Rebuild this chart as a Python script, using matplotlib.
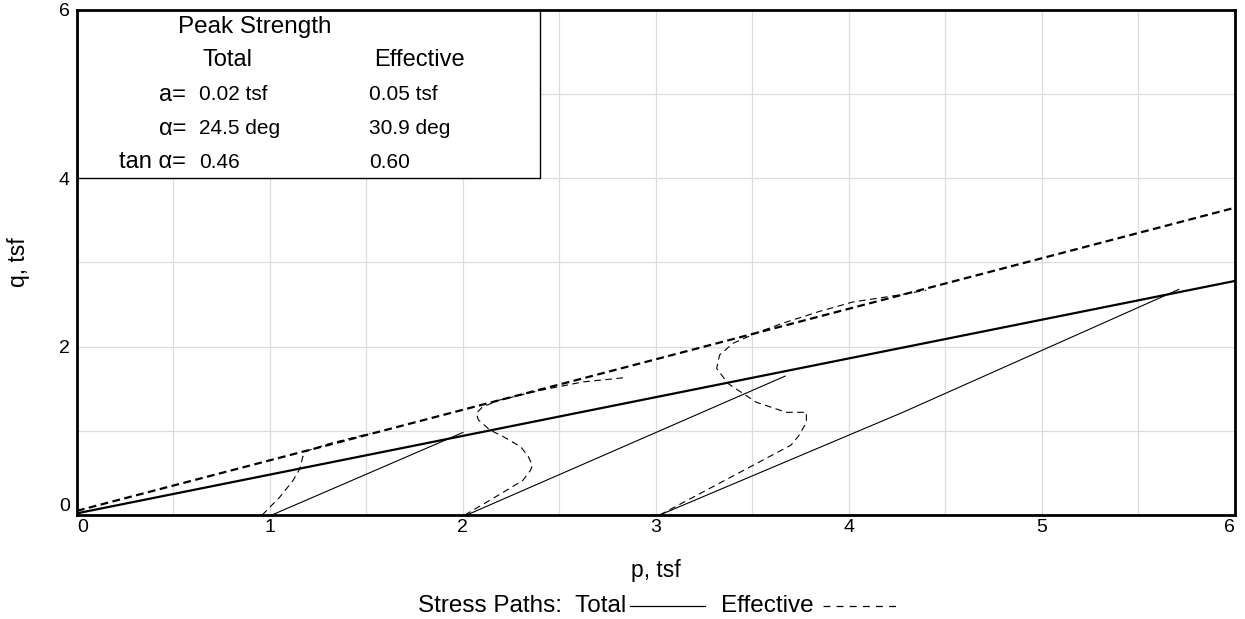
import numpy as np
import matplotlib
matplotlib.use('Agg')
import matplotlib.pyplot as plt
from matplotlib.lines import Line2D
from matplotlib.patches import Rectangle

plt.rcParams['font.family'] = ['Liberation Sans', 'DejaVu Sans']

# failure envelopes (peak strength): q = a + tan(alpha) * p
A_TOT, TAN_TOT = 0.02, 0.46
A_EFF, TAN_EFF = 0.05, 0.60

# total stress paths, p and q in tsf
TOT_P = [[1.01, 2.00],
         [2.02, 3.67],
         [3.02, 4.28, 5.71]]
TOT_Q = [[0.00, 0.98],
         [0.00, 1.65],
         [0.00, 1.22, 2.68]]

# effective stress paths
EFF_P = [[0.96, 1.05, 1.12, 1.155, 1.17, 1.19, 1.31, 1.52],
         [2.01, 2.18, 2.31, 2.35, 2.36, 2.34, 2.30, 2.21, 2.14, 2.08, 2.07,
          2.10, 2.18, 2.40, 2.62, 2.83],
         [3.02, 3.70, 3.74, 3.78, 3.78, 3.675, 3.52, 3.375, 3.315, 3.33, 3.40,
          3.47, 3.54, 3.66, 3.85, 4.02, 4.25, 4.40]]
EFF_Q = [[0.00, 0.21, 0.41, 0.55, 0.69, 0.76, 0.85, 0.97],
         [0.00, 0.23, 0.41, 0.53, 0.59, 0.69, 0.81, 0.93, 1.01, 1.13, 1.21,
          1.28, 1.36, 1.48, 1.58, 1.63],
         [0.00, 0.83, 0.94, 1.10, 1.22, 1.22, 1.34, 1.56, 1.74, 1.90, 2.04,
          2.11, 2.18, 2.28, 2.42, 2.53, 2.61, 2.67]]

X_TICKS = [0, 1, 2, 3, 4, 5, 6]
Y_TICKS = [0, 2, 4, 6]

ROW_LABELS = ['a=', '\u03b1=', 'tan \u03b1=']
TOT_VALS = ['0.02 tsf', '24.5 deg', '0.46']
EFF_VALS = ['0.05 tsf', '30.9 deg', '0.60']

GRID_C = '#dcdcdc'


def draw_table(ax):
    # white box in the upper left that hides the grid
    ax.add_patch(Rectangle((0, 4), 2.4, 2.0, facecolor='white', edgecolor='black',
                           lw=1.0, zorder=8))
    kw = dict(zorder=9, va='center', color='black')
    ax.text(0.522, 5.80, 'Peak Strength', fontsize=17.5, ha='left', **kw)
    ax.text(0.651, 5.40, 'Total', fontsize=17, ha='left', **kw)
    ax.text(1.541, 5.40, 'Effective', fontsize=17, ha='left', **kw)
    for i, (lab, tv, ev) in enumerate(zip(ROW_LABELS, TOT_VALS, EFF_VALS)):
        y = 4.99 - 0.40 * i
        ax.text(0.565, y, lab, fontsize=17, ha='right', **kw)
        ax.text(0.632, y, tv, fontsize=15, ha='left', **kw)
        ax.text(1.512, y, ev, fontsize=15, ha='left', **kw)


def main():
    fig = plt.figure(figsize=(12.45, 6.19), dpi=100)
    ax = fig.add_axes([0.0618, 0.168, 0.930, 0.816])

    pp = np.array([0.0, 6.0])
    ax.plot(pp, A_TOT + TAN_TOT * pp, color='black', lw=1.6, zorder=5)
    ax.plot(pp, A_EFF + TAN_EFF * pp, color='black', lw=1.6, ls=(0, (3.5, 2.0)), zorder=5)

    for p, q in zip(TOT_P, TOT_Q):
        ax.plot(p, q, color='black', lw=0.8, zorder=4)
    for p, q in zip(EFF_P, EFF_Q):
        ax.plot(p, q, color='black', lw=0.8, ls=(0, (6, 4)), zorder=4)

    ax.set_xlim(0, 6); ax.set_ylim(0, 6)
    ax.set_xticks(X_TICKS); ax.set_yticks(Y_TICKS)
    ax.set_xticks(np.arange(0, 6.01, 0.5), minor=True)
    ax.set_yticks(np.arange(0, 6.01, 1.0), minor=True)
    ax.grid(which='minor', color=GRID_C, lw=0.9)
    ax.grid(which='major', color=GRID_C, lw=0.9)
    ax.set_axisbelow(True)
    ax.tick_params(which='both', length=0, labelsize=14, pad=5)
    ax.tick_params(axis='x', pad=3)
    for s in ax.spines.values():
        s.set_linewidth(2.0)
        s.set_zorder(10)

    xt = ax.xaxis.get_major_ticks()
    xt[0].label1.set_horizontalalignment('left')
    xt[-1].label1.set_horizontalalignment('right')
    ax.yaxis.get_major_ticks()[0].label1.set_verticalalignment('bottom')

    draw_table(ax)

    fig.text(0.0145, 0.576, 'q, tsf', rotation=90, ha='center', va='center', fontsize=16.5)
    fig.text(0.527, 0.079, 'p, tsf', ha='center', va='center', fontsize=16.5)

    # stress path key below the plot
    yk = 0.021
    fig.text(0.503, yk, 'Stress Paths:  Total', ha='right', va='center', fontsize=17.5)
    fig.add_artist(Line2D([0.506, 0.566], [yk, yk], color='black', lw=0.9,
                          transform=fig.transFigure))
    fig.text(0.579, yk, 'Effective', ha='left', va='center', fontsize=17.5)
    fig.add_artist(Line2D([0.661, 0.723], [yk, yk], color='black', lw=0.9,
                          ls=(0, (5.5, 5)), transform=fig.transFigure))

    fig.savefig('out.png', dpi=100)
    plt.close(fig)


if __name__ == '__main__':
    main()
